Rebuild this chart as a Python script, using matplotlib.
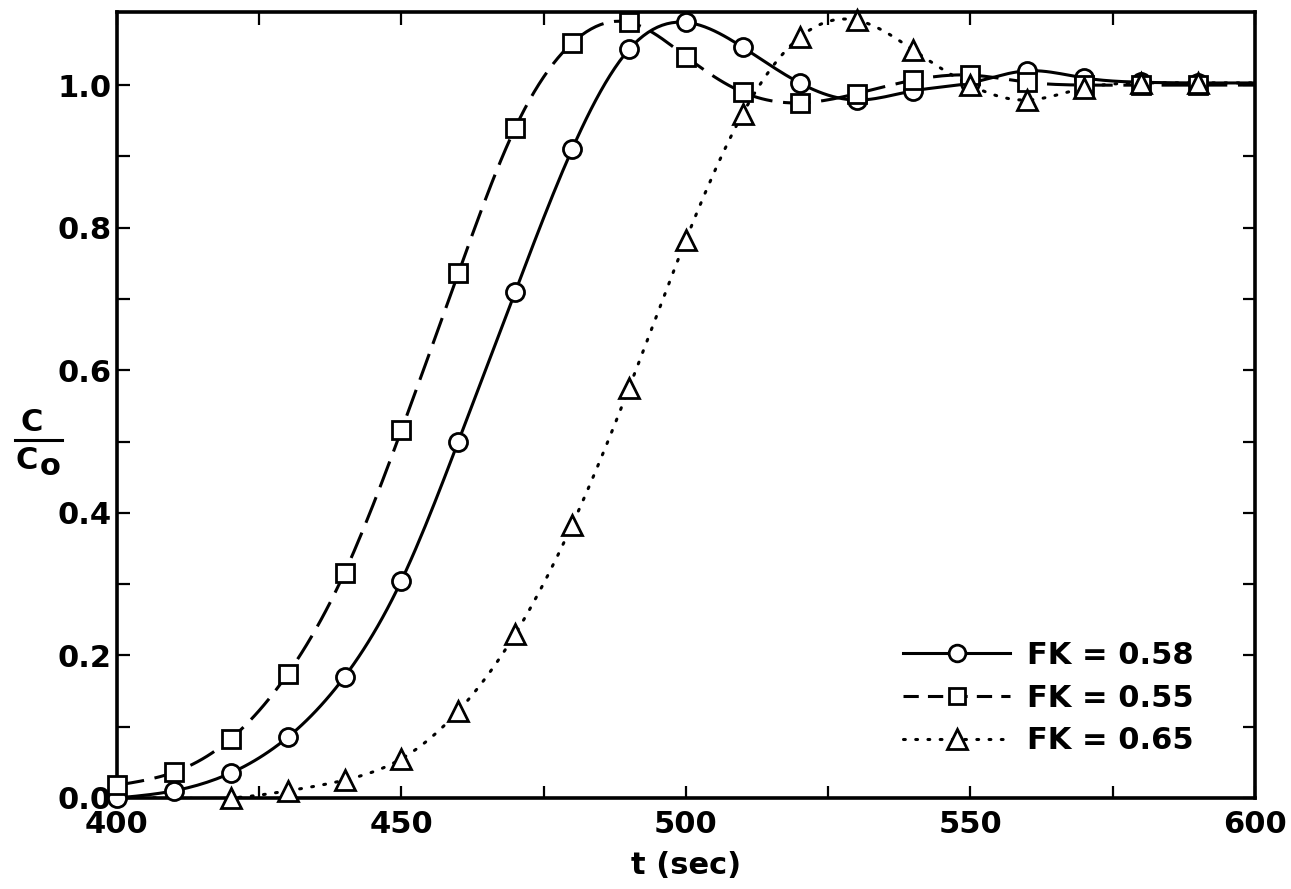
import numpy as np
import matplotlib
matplotlib.use("Agg")
from matplotlib import pyplot as plt
from matplotlib.lines import Line2D

# sample times (sec); the curves run on to 600 where every series has settled at 1.0
t = [400, 410, 420, 430, 440, 450, 460, 470, 480, 490,
     500, 510, 520, 530, 540, 550, 560, 570, 580, 590, 600]

fk058 = [0.0, 0.01, 0.035, 0.085, 0.17, 0.305, 0.50, 0.71, 0.91, 1.05,
         1.088, 1.053, 1.003, 0.979, 0.992, 1.003, 1.02, 1.01, 1.004, 1.003, 1.003]
fk055 = [0.018, 0.036, 0.083, 0.174, 0.316, 0.516, 0.736, 0.94, 1.059, 1.088,
         1.04, 0.99, 0.975, 0.988, 1.007, 1.014, 1.004, 1.0, 1.0, 1.0, 1.0]
fk065 = [0.0, 0.0, 0.0, 0.01, 0.025, 0.055, 0.122, 0.23, 0.383, 0.575,
         0.783, 0.96, 1.067, 1.091, 1.049, 1.0, 0.979, 0.996, 1.003, 1.003, 1.003]

labels = ["FK = 0.58", "FK = 0.55", "FK = 0.65"]


def spline(x, y, n=12):
    """natural cubic spline through (x, y), n sub-steps per interval"""
    x = np.asarray(x, float)
    y = np.asarray(y, float)
    m = len(x)
    h = np.diff(x)
    A = np.zeros((m, m))
    b = np.zeros(m)
    A[0, 0] = A[-1, -1] = 1
    for i in range(1, m - 1):
        A[i, i - 1] = h[i - 1]
        A[i, i] = 2 * (h[i - 1] + h[i])
        A[i, i + 1] = h[i]
        b[i] = 6 * ((y[i + 1] - y[i]) / h[i] - (y[i] - y[i - 1]) / h[i - 1])
    M = np.linalg.solve(A, b)
    xs, ys = [], []
    for i in range(m - 1):
        s = np.linspace(x[i], x[i + 1], n, endpoint=False)
        a = x[i + 1] - s
        c = s - x[i]
        v = (M[i] * a**3 + M[i + 1] * c**3) / (6 * h[i]) \
            + (y[i] / h[i] - M[i] * h[i] / 6) * a \
            + (y[i + 1] / h[i] - M[i + 1] * h[i] / 6) * c
        xs.extend(s)
        ys.extend(v)
    xs.append(x[-1])
    ys.append(y[-1])
    return np.array(xs), np.array(ys)


plt.rcParams['font.family'] = ['DejaVu Sans']
plt.rcParams['font.weight'] = 'bold'
fs = 22

fig = plt.figure(figsize=(12.91, 8.89), dpi=100)
ax = fig.add_axes([0.0906, 0.1024, 0.8814, 0.8841])

lw = 2.2
ms = 13
styles = [
    dict(series=fk058, ls='-', marker='o', first=0),
    dict(series=fk055, ls=(0, (9, 3.5)), marker='s', first=0),
    dict(series=fk065, ls=(0, (0.6, 3.4)), marker='^', first=2),
]

handles = []
for st, lab in zip(styles, labels):
    cap = 'round' if st['marker'] == '^' else 'butt'
    xs, ys = spline(t, st['series'])
    ax.plot(xs, ys, color='black', lw=lw, ls=st['ls'], dash_capstyle=cap, zorder=2)
    # markers only at the measured times, last one at 590
    tm = t[st['first']:-1]
    vm = st['series'][st['first']:-1]
    ax.plot(tm, vm, ls='none', marker=st['marker'],
            ms=ms if st['marker'] != '^' else ms + 2,
            mfc='white', mec='black', mew=2.0, zorder=3, clip_on=False)
    handles.append(Line2D([], [], color='black', lw=lw,
                          ls=st['ls'] if st['marker'] != 's' else (0, (5, 3)),
                          marker=st['marker'], ms=12 if st['marker'] != '^' else 15,
                          mfc='white', mec='black', mew=2.0, dash_capstyle=cap))

ax.set_xlim(400, 600)
ax.set_ylim(0, 1.1025)
ax.set_xticks([400, 450, 500, 550, 600])
ax.set_xticks(np.arange(425, 600, 50), minor=True)
ax.set_yticks([0.0, 0.2, 0.4, 0.6, 0.8, 1.0])
ax.set_yticks(np.arange(0.1, 1.1, 0.2), minor=True)
ax.set_yticklabels(['0.0', '0.2', '0.4', '0.6', '0.8', '1.0'])

ax.tick_params(which='both', direction='in', top=True, right=True,
               length=9, width=1.6, labelsize=fs)
ax.tick_params(axis='y', pad=4)
ax.tick_params(axis='x', pad=9)
for lab in ax.get_xticklabels() + ax.get_yticklabels():
    lab.set_fontweight('bold')
for sp in ax.spines.values():
    sp.set_linewidth(2.6)

ax.set_xlabel('t (sec)', fontsize=fs, fontweight='bold', labelpad=8)

# C / Co label drawn as a stacked fraction
fig.text(32 / 1291, 1 - 423 / 889, 'C', fontsize=fs, fontweight='bold',
         ha='center', va='center')
fig.add_artist(Line2D([15 / 1291, 62 / 1291], [1 - 440 / 889, 1 - 440 / 889],
                      color='black', lw=2.2))
fig.text(27 / 1291, 1 - 460 / 889, 'C', fontsize=fs, fontweight='bold',
         ha='center', va='center')
fig.text(50 / 1291, 1 - 466 / 889, 'o', fontsize=fs, fontweight='bold',
         ha='center', va='center')

leg = ax.legend(handles, labels, loc='upper left', frameon=False,
                bbox_to_anchor=(0.691, 0.200), fontsize=fs,
                handlelength=3.5, handletextpad=0.55, labelspacing=0.45,
                borderpad=0, borderaxespad=0)
for txt in leg.get_texts():
    txt.set_fontweight('bold')

fig.savefig('out.png', dpi=100)
